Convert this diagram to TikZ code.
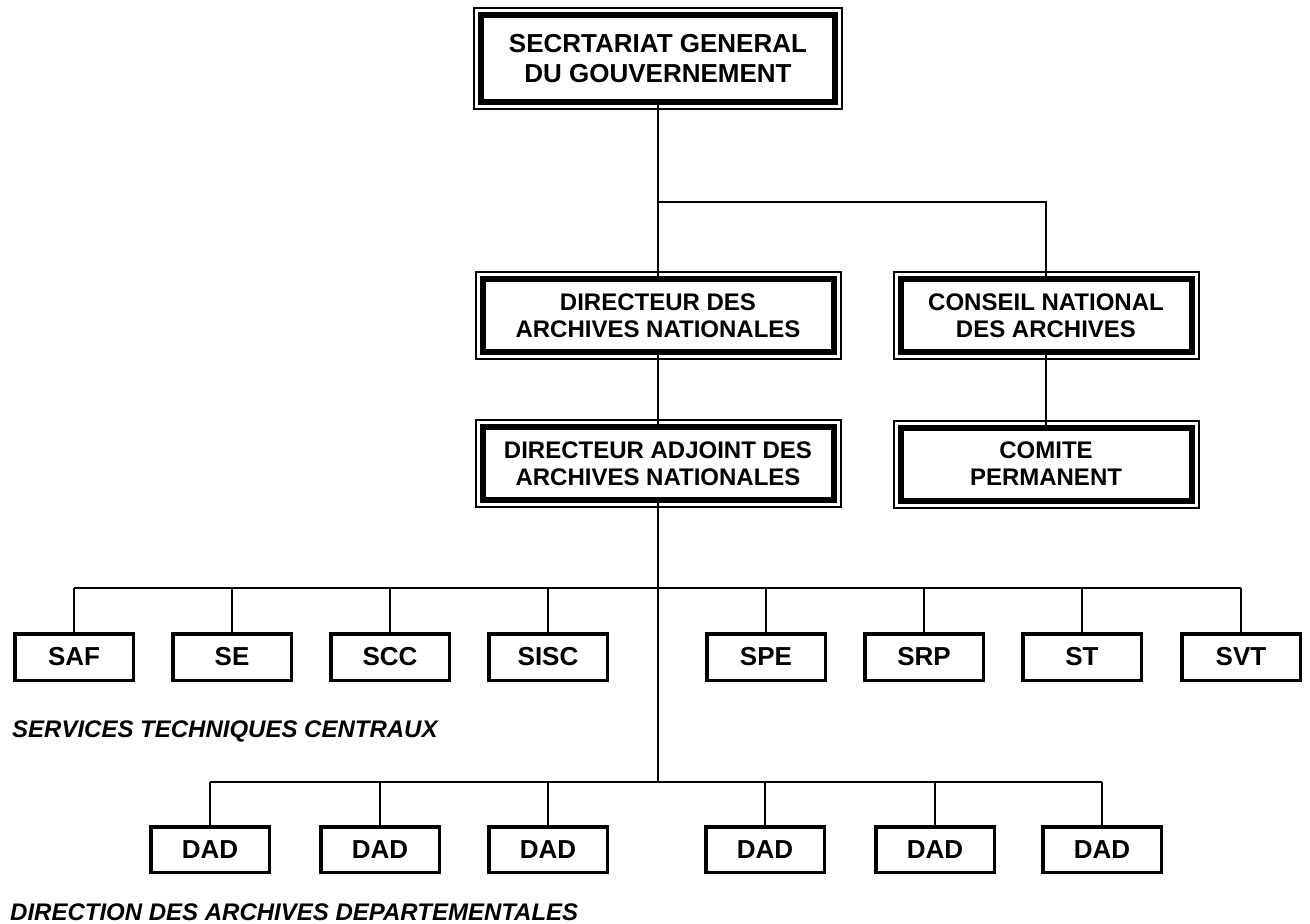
\documentclass[tikz,border=0pt]{standalone}
\usepackage{fontspec}
\setmainfont{Liberation Sans}

\begin{document}
\begin{tikzpicture}[x=1pt,y=-1pt]
        \tikzstyle{every node}=[rectangle, inner sep=0pt, align=center]
        \tikzstyle{chef}=[draw, fill=white, line width=6pt, preaction={draw, line width=16pt}, preaction={draw=white, line width=12pt}, minimum width=351pt, minimum height=73pt, font=\bfseries\fontsize{24}{27}\selectfont]
        \tikzstyle{service}=[draw, line width=3.5pt, minimum width=118.5pt, minimum height=46.5pt, font=\bfseries\fontsize{26}{30}\selectfont]
        \tikzstyle{lien}=[line width=2.7pt]
        \tikzstyle{titre}=[anchor=base west, font=\bfseries\itshape\fontsize{24}{28}\selectfont]
        \useasboundingbox (0,0) rectangle (1310,924);
        % direction
        \node[chef, minimum width=354pt, minimum height=87pt, font=\bfseries\fontsize{26}{30}\selectfont] (SGG) at (658,58.5) {SECRTARIAT GENERAL\\DU GOUVERNEMENT};
        \node[chef] (DAN) at (658,315.5) {DIRECTEUR DES\\ARCHIVES NATIONALES};
        \node[chef] (ADJ) at (658,463.5) {DIRECTEUR ADJOINT DES\\ARCHIVES NATIONALES};
        \node[chef, minimum width=291pt] (CNA) at (1046,315.5) {CONSEIL NATIONAL\\DES ARCHIVES};
        \node[chef, minimum width=291pt] (CP) at (1046,464) {COMITE\\PERMANENT};
        % services
        \foreach \nom/\x in {SAF/74, SE/232, SCC/390, SISC/548, SPE/766, SRP/924, ST/1082, SVT/1241}
          \node[service] (\nom) at (\x,657) {\nom};
        \foreach \i/\x in {1/210, 2/380, 3/548, 4/765, 5/935, 6/1102}
          \node[service, minimum height=45.5pt] (D\i) at (\x,849.5) {DAD};
        \node[titre] (STC) at (12,737) {SERVICES TECHNIQUES CENTRAUX};
        \node[titre] (DIRAD) at (10,920) {DIRECTION DES ARCHIVES DEPARTEMENTALES};
        % liens
        \coordinate (bus0) at (0,202);
        \coordinate (bus1) at (0,588);
        \coordinate (bus2) at (0,782);
        \draw[lien] (SGG.south) -- (DAN.north);
        \draw[lien] (SGG.south |- bus0) -| (CNA.north);
        \draw[lien] (DAN) -- (ADJ);
        \draw[lien] (CNA) -- (CP);
        \draw[lien] (ADJ.south) -- (ADJ.south |- bus2);
        \draw[lien] (SAF.north |- bus1) -- (SVT.north |- bus1);
        \draw[lien] (D1.north |- bus2) -- (D6.north |- bus2);
        \foreach \s in {SAF, SE, SCC, SISC, SPE, SRP, ST, SVT}
          \draw[lien] (\s.north) -- (\s.north |- bus1);
        \foreach \i in {1,...,6}
          \draw[lien] (D\i.north) -- (D\i.north |- bus2);
\end{tikzpicture}
\end{document}
